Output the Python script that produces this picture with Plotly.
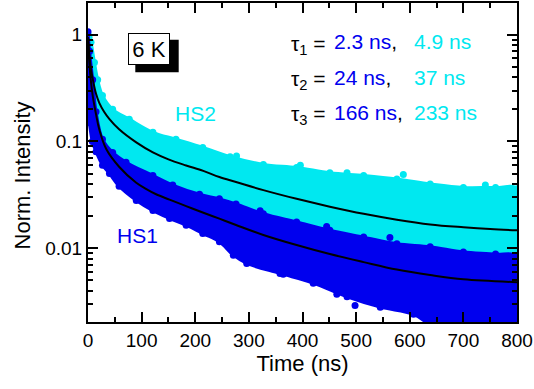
import plotly.graph_objects as go

# ---- decay data (time in ns, normalised intensity) ----
# HS2 point cloud: upper edge and lower edge of the measured cloud
hs2_top_t = [0, 2, 5.6, 12, 18, 27, 46, 77, 121, 164, 214, 265, 327, 389, 451, 514, 576, 638, 700, 760, 800]
hs2_top_v = [1.02, 0.95, 0.85, 0.55, 0.38, 0.27, 0.20, 0.162, 0.122, 0.105, 0.088, 0.072, 0.061, 0.057,
             0.051, 0.048, 0.0445, 0.040, 0.037, 0.037, 0.036]
hs2_bot_t = [800, 700, 600, 500, 400, 300, 200, 100, 50, 20, 5, 0]
hs2_bot_v = [0.006, 0.007, 0.008, 0.009, 0.011, 0.014, 0.020, 0.035, 0.050, 0.10, 0.30, 0.90]
hs2_out_t = [277, 396, 483, 588, 741]
hs2_out_v = [0.073, 0.060, 0.051, 0.049, 0.039]

# HS1 point cloud
hs1_top_t = [0, 3, 8.7, 15, 27, 46, 71, 121, 158, 208, 245, 276, 327, 389, 451, 514, 576, 638, 700, 760, 800]
hs1_top_v = [1.07, 0.70, 0.38, 0.19, 0.105, 0.079, 0.064, 0.048, 0.039, 0.032, 0.029, 0.026, 0.021,
             0.0176, 0.0147, 0.0127, 0.011, 0.0103, 0.0092, 0.0088, 0.0083]
hs1_bot_t = [800, 700, 640, 607, 545, 483, 420, 358, 296, 271, 245, 214, 183, 152, 121, 90, 58, 40, 27, 15, 8, 2.5, 0]
hs1_bot_v = [0.0015, 0.0015, 0.0019, 0.0024, 0.0028, 0.0035, 0.0047, 0.0058, 0.0072, 0.0086, 0.0115,
             0.0137, 0.0164, 0.019, 0.0225, 0.028, 0.038, 0.050, 0.060, 0.080, 0.10, 0.15, 0.20]
hs1_out_t = [321, 364, 445, 464, 498, 563]
hs1_out_v = [0.0224, 0.0057, 0.016, 0.0037, 0.0029, 0.0126]

# tri-exponential fits
hs2_fit_t = [0, 2, 5, 10, 15, 21, 30, 40, 58, 90, 121, 150, 183, 215, 245, 276, 327, 389, 451, 514,
             576, 638, 700, 750, 800]
hs2_fit_v = [0.95, 0.70, 0.50, 0.36, 0.28, 0.23, 0.19, 0.162, 0.13, 0.098, 0.079, 0.068, 0.0596, 0.053,
             0.0464, 0.0417, 0.035, 0.029, 0.0245, 0.021, 0.0185, 0.0167, 0.0157, 0.0151, 0.0147]
hs1_fit_t = [0, 3, 8.7, 15, 21, 34, 58, 90, 108, 127, 152, 183, 214, 245, 276, 327, 389, 451, 514,
             576, 638, 700, 800]
hs1_fit_v = [0.95, 0.50, 0.27, 0.18, 0.13, 0.085, 0.058, 0.041, 0.036, 0.032, 0.0285, 0.0248, 0.0216,
             0.0189, 0.0165, 0.0133, 0.0107, 0.0088, 0.0074, 0.0063, 0.0056, 0.0051, 0.0048]

# lifetimes shown in the legend text
tau_labels = ["1", "2", "3"]
tau_hs1 = ["2.3 ns", "24 ns", "166 ns"]
tau_hs2 = ["4.9 ns", "37 ns", "233 ns"]

x_ticks = [0, 100, 200, 300, 400, 500, 600, 700, 800]
y_ticks = [0.01, 0.1, 1]
y_ticktext = ["0.01", "0.1", "1"]

CYAN = "#00E8F0"
BLUE = "#0000EE"
FONT = "Liberation Sans, Arial, sans-serif"

W, H = 534, 389
L, R, T, B = 88, 17, 1, 67
PW, PH = W - L - R, H - T - B


def px(x):
    return (x - L) / PW


def py(y):
    return (H - B - y) / PH


fig = go.Figure()

# point clouds as filled bands with dotted edges
for top_t, top_v, bot_t, bot_v, out_t, out_v, col in [
    (hs2_top_t, hs2_top_v, hs2_bot_t, hs2_bot_v, hs2_out_t, hs2_out_v, CYAN),
    (hs1_top_t, hs1_top_v, hs1_bot_t, hs1_bot_v, hs1_out_t, hs1_out_v, BLUE),
]:
    fig.add_trace(go.Scatter(
        x=top_t + bot_t, y=top_v + bot_v, mode="lines+markers", fill="toself",
        fillcolor=col, line=dict(color=col, width=3, shape="spline"),
        marker=dict(color=col, size=7), showlegend=False, hoverinfo="skip"))
    fig.add_trace(go.Scatter(
        x=out_t, y=out_v, mode="markers", marker=dict(color=col, size=7),
        showlegend=False, hoverinfo="skip"))

# fit curves
for ft, fv in [(hs2_fit_t, hs2_fit_v), (hs1_fit_t, hs1_fit_v)]:
    fig.add_trace(go.Scatter(x=ft, y=fv, mode="lines", line=dict(color="black", width=2, shape="spline"),
                             showlegend=False, hoverinfo="skip"))

axis_common = dict(
    showline=True, linecolor="black", linewidth=2, mirror="ticks",
    ticks="inside", ticklen=10, tickwidth=2, tickcolor="black",
    showgrid=False, zeroline=False,
    tickfont=dict(family=FONT, size=19, color="black"),
)

fig.update_xaxes(
    range=[0, 800], tickvals=x_ticks,
    minor=dict(ticks="inside", ticklen=5, tickwidth=2, tickcolor="black", dtick=50, showgrid=False),
    title=dict(text="Time (ns)", font=dict(family=FONT, size=22, color="black"), standoff=6),
    **axis_common)

minor_y = [m * 10 ** e for e in (-3, -2, -1) for m in range(2, 10)] + [2]
fig.update_yaxes(
    type="log", range=[-2.692, 0.298], tickvals=y_ticks, ticktext=y_ticktext,
    minor=dict(ticks="inside", ticklen=5, tickwidth=2, tickcolor="black", tickvals=minor_y, showgrid=False),
    **axis_common)

# temperature label: black drop shadow under a framed white box
shapes = [
    dict(type="rect", xref="paper", yref="paper", x0=px(135.3), x1=px(178.7), y0=py(70.7), y1=py(38),
         fillcolor="black", line=dict(width=0), layer="below"),
]

annotations = [
    dict(text="Norm. Intensity", x=px(22.5), y=py(175), textangle=-90,
         font=dict(family=FONT, size=22, color="black")),
    dict(text="HS2", x=px(195), y=py(112), font=dict(family=FONT, size=21, color=CYAN)),
    dict(text="HS1", x=px(137.7), y=py(235), font=dict(family=FONT, size=21, color=BLUE)),
    dict(text="6 K", x=px(148.5), y=py(47.2), width=40, height=30, borderpad=0,
         bgcolor="white", bordercolor="black", borderwidth=1,
         font=dict(family=FONT, size=22, color="black")),
]
row_y = [40, 75.5, 111]
for i in range(3):
    annotations.append(dict(text="τ<sub>%s</sub> =" % tau_labels[i], x=px(289), y=py(row_y[i] + 3),
                            xanchor="left", font=dict(family=FONT, size=21, color="black")))
    annotations.append(dict(text="<span style='color:%s'>%s</span>," % (BLUE, tau_hs1[i]),
                            x=px(332), y=py(row_y[i]), xanchor="left",
                            font=dict(family=FONT, size=21, color="black")))
    annotations.append(dict(text=tau_hs2[i], x=px(412), y=py(row_y[i]), xanchor="left",
                            font=dict(family=FONT, size=21, color=CYAN)))
for a in annotations:
    a.setdefault("xref", "paper")
    a.setdefault("yref", "paper")
    a.setdefault("showarrow", False)
    a.setdefault("yanchor", "middle")
    a.setdefault("xanchor", "center")

fig.update_layout(
    width=W, height=H, margin=dict(l=L, r=R, t=T, b=B),
    paper_bgcolor="white", plot_bgcolor="white",
    annotations=annotations, shapes=shapes,
    font=dict(family=FONT, color="black"),
)

fig.write_html("out.html")
